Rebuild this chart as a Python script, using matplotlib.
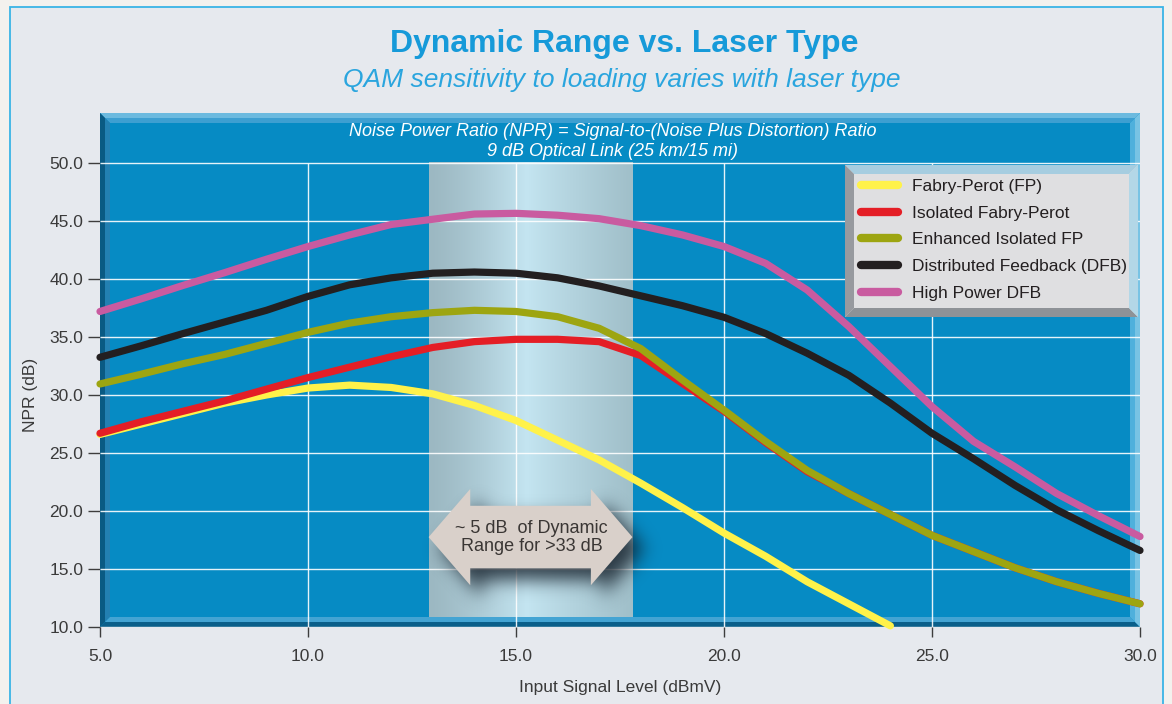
import numpy as np
import matplotlib
matplotlib.use("Agg")
import matplotlib.pyplot as plt
from matplotlib.patches import Polygon, Rectangle
from matplotlib.path import Path

# ---------------- data ----------------
x_levels = [5, 6, 7, 8, 9, 10, 11, 12, 13, 14, 15, 16, 17, 18, 19, 20, 21, 22, 23, 24, 25, 26, 27, 28, 29, 30]
x_fp = [5, 6, 7, 8, 9, 10, 11, 12, 13, 14, 15, 16, 17, 18, 19, 20, 21, 22, 23, 24]
npr_fp = [26.6, 27.5, 28.4, 29.3, 30.0, 30.6, 30.85, 30.65, 30.1, 29.1, 27.8, 26.1, 24.4, 22.4,
          20.3, 18.1, 16.1, 13.9, 12.0, 10.1]
npr_isolated = [26.7, 27.7, 28.6, 29.5, 30.5, 31.5, 32.4, 33.3, 34.1, 34.6, 34.8, 34.8, 34.6, 33.4,
                31.0, 28.6, 25.9, 23.4, 21.5, 19.7, 17.9, 16.5, 15.1, 13.9, 12.9, 12.0]
npr_enhanced = [30.95, 31.8, 32.7, 33.5, 34.45, 35.4, 36.2, 36.75, 37.1, 37.3, 37.2, 36.75, 35.75, 34.0,
                31.3, 28.7, 26.0, 23.5, 21.5, 19.7, 17.9, 16.5, 15.1, 13.9, 12.9, 12.0]
npr_dfb = [33.25, 34.25, 35.3, 36.3, 37.3, 38.5, 39.5, 40.1, 40.5, 40.6, 40.5, 40.1, 39.4, 38.55,
           37.7, 36.7, 35.3, 33.6, 31.7, 29.3, 26.7, 24.5, 22.2, 20.1, 18.3, 16.6]
npr_hp_dfb = [37.2, 38.3, 39.45, 40.55, 41.7, 42.8, 43.8, 44.7, 45.15, 45.6, 45.66, 45.5, 45.2, 44.6,
              43.8, 42.8, 41.35, 39.05, 35.9, 32.45, 29.0, 26.0, 23.8, 21.5, 19.6, 17.8]

series_labels = ["Fabry-Perot (FP)", "Isolated Fabry-Perot", "Enhanced Isolated FP",
                 "Distributed Feedback (DFB)", "High Power DFB"]
series_colors = ["#fff24a", "#e41e26", "#9da511", "#231f20", "#c95ba0"]

x_ticks = [5, 10, 15, 20, 25, 30]
y_ticks = [10, 15, 20, 25, 30, 35, 40, 45, 50]
x_ticklabels = ["5.0", "10.0", "15.0", "20.0", "25.0", "30.0"]
y_ticklabels = ["10.0", "15.0", "20.0", "25.0", "30.0", "35.0", "40.0", "45.0", "50.0"]

band_lo, band_hi = 12.9, 17.8          # highlighted dynamic-range band
arrow_text = "~ 5 dB  of Dynamic\nRange for >33 dB"

title = "Dynamic Range vs. Laser Type"
subtitle = "QAM sensitivity to loading varies with laser type"
note1 = "Noise Power Ratio (NPR) = Signal-to-(Noise Plus Distortion) Ratio"
note2 = "9 dB Optical Link (25 km/15 mi)"

# ---------------- figure ----------------
FONT = "Liberation Sans"
plt.rcParams['font.family'] = [FONT, 'DejaVu Sans']

W, H = 1172, 704
fig = plt.figure(figsize=(W / 100, H / 100), dpi=100)
fig.patch.set_facecolor('#f3f1ee')
fig.patches.append(Rectangle((10 / W, -0.02), (1163 - 10) / W, (H - 7) / H + 0.02,
                             transform=fig.transFigure, facecolor='#e6e9ee',
                             edgecolor='#3ab4e6', lw=1.3, zorder=-10))

ax = fig.add_axes([100 / W, 77 / H, 1040 / W, 514 / H])
ax.set_zorder(1)
ax.set_facecolor('#068bc4')
ax.set_autoscale_on(False)
ax.set_xlim(5, 30)
ax.set_ylim(10, 54.31)
for s in ax.spines.values():
    s.set_visible(False)

# highlighted band with horizontal gradient
t = np.linspace(0, 1, 300)
c_left = np.array([0x9c, 0xb8, 0xc2]) / 255
c_mid = np.array([0xc4, 0xe5, 0xf1]) / 255
c_right = np.array([0xa0, 0xbf, 0xc9]) / 255
prof = np.empty((300, 3))
m = 0.48
for i, tv in enumerate(t):
    if tv <= m:
        f = (tv / m) ** 1.3
        prof[i] = c_left + (c_mid - c_left) * f
    else:
        f = ((tv - m) / (1 - m)) ** 0.9
        prof[i] = c_mid + (c_right - c_mid) * f
img = np.tile(prof[None, :, :], (60, 1, 1))
ax.imshow(img, extent=[band_lo, band_hi, 10, 50], aspect='auto', zorder=1,
          interpolation='bilinear', origin='lower')

# bevel frame of plotting area
wx, wy = 10 / 1040, 10 / 514


def band(side, a, b, color, tr, wx, wy, x0=0, y0=0, x1=1, y1=1, z=2):
    if side == 'top':
        pts = [(x0 + a * wx, y1 - a * wy), (x1 - a * wx, y1 - a * wy), (x1 - b * wx, y1 - b * wy), (x0 + b * wx, y1 - b * wy)]
    elif side == 'bottom':
        pts = [(x0 + a * wx, y0 + a * wy), (x1 - a * wx, y0 + a * wy), (x1 - b * wx, y0 + b * wy), (x0 + b * wx, y0 + b * wy)]
    elif side == 'left':
        pts = [(x0 + a * wx, y0 + a * wy), (x0 + a * wx, y1 - a * wy), (x0 + b * wx, y1 - b * wy), (x0 + b * wx, y0 + b * wy)]
    else:
        pts = [(x1 - a * wx, y0 + a * wy), (x1 - a * wx, y1 - a * wy), (x1 - b * wx, y1 - b * wy), (x1 - b * wx, y0 + b * wy)]
    ax.add_patch(Polygon(pts, closed=True, facecolor=color, edgecolor='none',
                         transform=tr, zorder=z, clip_on=False))


for side, c_out, c_in in [('top', '#6cbadf', '#3d9fd1'), ('left', '#0a5a83', '#2380b2'),
                          ('bottom', '#0a5f8a', '#43a4d3'), ('right', '#78c3e4', '#4fb0dc')]:
    band(side, 0, 0.5, c_out, ax.transAxes, wx, wy)
    band(side, 0.5, 1.0, c_in, ax.transAxes, wx, wy)

# grid
ax.hlines(y_ticks, 5, 30, color='white', lw=1.0, alpha=0.9, zorder=3)
ax.vlines(x_ticks[1:-1], 10, 50, color='white', lw=1.0, alpha=0.9, zorder=3)

# double arrow annotation (shape parameters)
arrow_yc = 17.75
head_len = 1.0
head_half = 4.15
body_half = 2.7
arr = [(band_lo, arrow_yc), (band_lo + head_len, arrow_yc + head_half),
       (band_lo + head_len, arrow_yc + body_half), (band_hi - head_len, arrow_yc + body_half),
       (band_hi - head_len, arrow_yc + head_half), (band_hi, arrow_yc),
       (band_hi - head_len, arrow_yc - head_half), (band_hi - head_len, arrow_yc - body_half),
       (band_lo + head_len, arrow_yc - body_half), (band_lo + head_len, arrow_yc - head_half)]

# blurred drop shadow
sx0, sx1, sy0, sy1 = band_lo - 0.8, band_hi + 1.5, 10.2, 26.0
nx, ny = int((sx1 - sx0) * 41.6), int((sy1 - sy0) * 11.6)
gx, gy = np.meshgrid(np.linspace(sx0, sx1, nx), np.linspace(sy0, sy1, ny))
dx, dy = 0.28, -1.0
shadow_path = Path([(p[0] + dx, p[1] + dy) for p in arr] + [(arr[0][0] + dx, arr[0][1] + dy)], closed=True)
mask = shadow_path.contains_points(np.c_[gx.ravel(), gy.ravel()]).reshape(ny, nx).astype(float)
sig = 9.0
k = np.exp(-0.5 * (np.arange(-28, 29) / sig) ** 2)
k /= k.sum()
blur = np.apply_along_axis(lambda r: np.convolve(r, k, mode='same'), 1, mask)
blur = np.apply_along_axis(lambda c: np.convolve(c, k, mode='same'), 0, blur)
sh = np.zeros((ny, nx, 4))
sh[..., 0], sh[..., 1], sh[..., 2] = 0.05, 0.09, 0.13
sh[..., 3] = np.clip(blur * 0.8, 0, 1)
ax.imshow(sh, extent=[sx0, sx1, sy0, sy1], origin='lower', aspect='auto', zorder=4,
          interpolation='bilinear')
ax.add_patch(Polygon(arr, closed=True, facecolor='#d9d0ca', edgecolor='none', zorder=5))
ax.text((band_lo + band_hi) / 2 + 0.03, arrow_yc, arrow_text, ha='center', va='center',
        fontsize=13, color='#3a3634', linespacing=1.08, zorder=6)

# curves
xs_list = [x_fp, x_levels, x_levels, x_levels, x_levels]
ys_list = [npr_fp, npr_isolated, npr_enhanced, npr_dfb, npr_hp_dfb]
handles = []
for i, (xs, ys) in enumerate(zip(xs_list, ys_list)):
    ln, = ax.plot(xs, ys, color=series_colors[i], lw=5.2, solid_capstyle='round',
                  solid_joinstyle='round', zorder=7 + i * 0.1, clip_on=False,
                  label=series_labels[i])
    handles.append(ln)

# legend panel with bevel
lx0, lx1 = (845 - 100) / 1040, (1138 - 100) / 1040
ly0, ly1 = (627 - 317) / 514, (627 - 165) / 514
lwx, lwy = 9 / 1040, 9 / 514
ax.add_patch(Rectangle((lx0, ly0), lx1 - lx0, ly1 - ly0, transform=ax.transAxes,
                       facecolor='#dfdfe1', edgecolor='none', zorder=9))
for side, col in [('top', '#a6cde0'), ('left', '#979a9f'), ('bottom', '#8e9297'), ('right', '#b3d7e7')]:
    band(side, 0, 1, col, ax.transAxes, lwx, lwy, lx0, ly0, lx1, ly1, z=9.5)
leg = ax.legend(handles=handles, loc='upper left', bbox_to_anchor=((861 - 100) / 1040, (627 - 179) / 514),
                frameon=False, fontsize=12.5, handlelength=2.15, handletextpad=0.78,
                labelspacing=0.66, borderpad=0, borderaxespad=0)
leg.set_zorder(12)
for txt in leg.get_texts():
    txt.set_color('#231f20')
for lh in leg.get_lines():
    lh.set_linewidth(6)
    lh.set_solid_capstyle('round')

# ticks and labels
ax.set_xticks(x_ticks)
ax.set_xticklabels(x_ticklabels)
ax.set_yticks(y_ticks)
ax.set_yticklabels(y_ticklabels)
ax.tick_params(axis='x', direction='out', length=7, width=1, color='#3d3d3d', pad=9,
               labelsize=12.5, labelcolor='#3a3a3a')
ax.tick_params(axis='y', direction='out', length=9, width=1, color='#3d3d3d', pad=3,
               labelsize=12.5, labelcolor='#3a3a3a')
ax.set_xlabel("Input Signal Level (dBmV)", fontsize=12.5, color='#3a3a3a')
ax.set_ylabel("NPR (dB)", fontsize=12.5, color='#3a3a3a')
ax.xaxis.set_label_coords(0.5, (627 - 680) / 514)
ax.yaxis.set_label_coords((38 - 100) / 1040, (627 - 395) / 514)

# in-plot notes
ax.text(0.493, (627 - 131) / 514, note1, transform=ax.transAxes, ha='center', va='center',
        fontsize=13, style='italic', color='white', zorder=8)
ax.text(0.493, (627 - 152) / 514, note2, transform=ax.transAxes, ha='center', va='center',
        fontsize=13, style='italic', color='white', zorder=8)

# titles
fig.text(624 / W, 1 - 44 / H, title, ha='center', va='center', fontsize=23,
         fontweight='bold', color='#169ad9')
fig.text(622 / W, 1 - 80 / H, subtitle, ha='center', va='center', fontsize=19,
         style='italic', color='#2aa5de')

fig.savefig("out.png", dpi=100, facecolor=fig.get_facecolor())
